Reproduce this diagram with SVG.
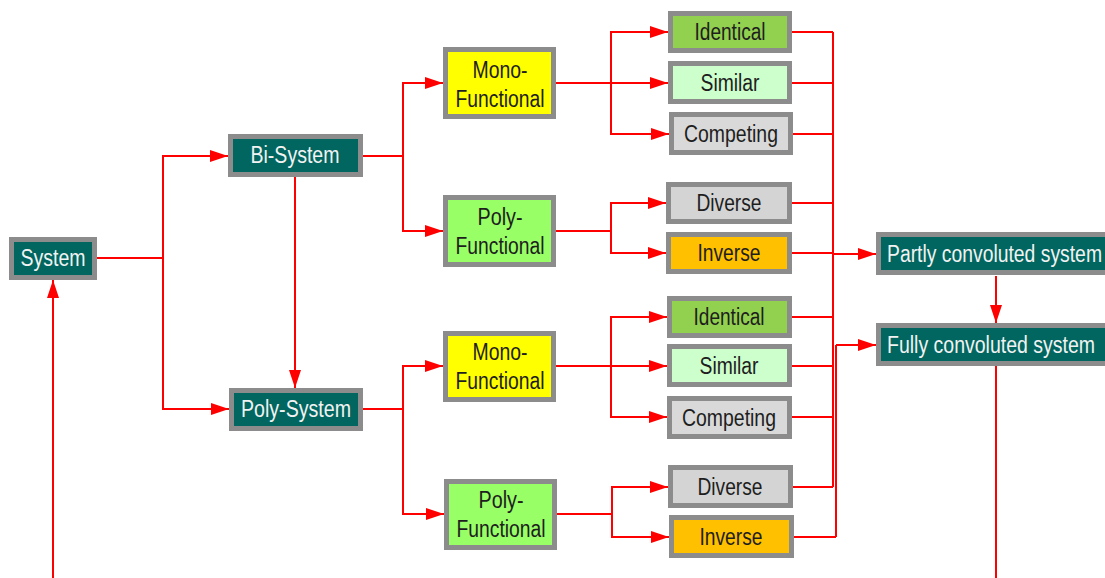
<svg xmlns="http://www.w3.org/2000/svg" width="1105" height="578" viewBox="0 0 1105 578">
<style>
.n rect{stroke:#8c8c8c;stroke-width:5}
.dark rect{fill:#00665f}
.dark text{fill:#f2f2f2}
text{font-family:"Liberation Sans Narrow","Liberation Sans",Arial,sans-serif;font-size:23px;fill:#1e1e1e;text-anchor:middle}
.c path{fill:none;stroke:#ff0000;stroke-width:2}
.c path.a{marker-end:url(#ah)}
</style>
<defs>
<marker id="ah" markerUnits="userSpaceOnUse" markerWidth="18" markerHeight="12" viewBox="0 0 18 12" refX="18" refY="6" orient="auto">
<path d="M0,0 L18,6 L0,12 Z" fill="#ff0000"/>
</marker>
</defs>
<g class="c">
<path class="a" d="M97,258 H163 V156 H228"/>
<path class="a" d="M163,258 V409 H229"/>
<path class="a" d="M295,177 V388"/>
<path class="a" d="M363,156 H403 V83 H443"/>
<path class="a" d="M403,156 V231 H443"/>
<path class="a" d="M556,83 H611 V32 H668"/>
<path class="a" d="M611,83 H668"/>
<path class="a" d="M611,83 V134 H669"/>
<path class="a" d="M556,231 H611 V203 H666"/>
<path class="a" d="M611,231 V253 H666"/>
<path class="a" d="M363,409 H403 V366 H443"/>
<path class="a" d="M403,409 V514 H444"/>
<path class="a" d="M556,366 H611 V317 H667"/>
<path class="a" d="M611,366 H667"/>
<path class="a" d="M611,366 V417 H667"/>
<path class="a" d="M557,514 H612 V487 H668"/>
<path class="a" d="M612,514 V537 H669"/>
<path d="M792,32 H833 M792,83 H833 M793,134 H833 M792,203 H833 M792,253 H833 M792,317 H833 M792,366 H833 M792,417 H833 M793,487 H833 M794,537 H836"/>
<path d="M833,32 V487"/>
<path d="M836,345 V537"/>
<path class="a" d="M833,254 H876"/>
<path class="a" d="M836,345 H876"/>
<path class="a" d="M996,276 V323"/>
<path d="M996,366 V578"/>
<path class="a" d="M53,578 V280"/>
</g>
<g id="system" class="n dark"><rect x="11.5" y="239.5" width="83" height="38"/><text x="53" y="266" textLength="65" lengthAdjust="spacingAndGlyphs">System</text></g>
<g id="bi-system" class="n dark"><rect x="230.5" y="136.5" width="130" height="38"/><text x="295" y="163" textLength="89" lengthAdjust="spacingAndGlyphs">Bi-System</text></g>
<g id="poly-system" class="n dark"><rect x="231.5" y="390.5" width="129" height="38"/><text x="296" y="417" textLength="110" lengthAdjust="spacingAndGlyphs">Poly-System</text></g>
<g id="mono1" class="n"><rect x="445.5" y="49.5" width="108" height="67" fill="#ffff00"/><text x="500" y="78" textLength="55" lengthAdjust="spacingAndGlyphs">Mono-</text><text x="500" y="107" textLength="89" lengthAdjust="spacingAndGlyphs">Functional</text></g>
<g id="poly1" class="n"><rect x="445.5" y="197.5" width="108" height="67" fill="#99ff66"/><text x="500" y="225" textLength="45" lengthAdjust="spacingAndGlyphs">Poly-</text><text x="500" y="254" textLength="89" lengthAdjust="spacingAndGlyphs">Functional</text></g>
<g id="mono2" class="n"><rect x="445.5" y="333.5" width="108" height="66" fill="#ffff00"/><text x="500" y="360" textLength="55" lengthAdjust="spacingAndGlyphs">Mono-</text><text x="500" y="389" textLength="89" lengthAdjust="spacingAndGlyphs">Functional</text></g>
<g id="poly2" class="n"><rect x="446.5" y="481.5" width="108" height="66" fill="#99ff66"/><text x="501" y="508" textLength="45" lengthAdjust="spacingAndGlyphs">Poly-</text><text x="501" y="537" textLength="89" lengthAdjust="spacingAndGlyphs">Functional</text></g>
<g id="identical1" class="n"><rect x="670.5" y="13.5" width="119" height="37" fill="#92d050"/><text x="730" y="40" textLength="71" lengthAdjust="spacingAndGlyphs">Identical</text></g>
<g id="similar1" class="n"><rect x="670.5" y="63.5" width="119" height="38" fill="#ccffcc"/><text x="730" y="91" textLength="59" lengthAdjust="spacingAndGlyphs">Similar</text></g>
<g id="competing1" class="n"><rect x="671.5" y="114.5" width="119" height="38" fill="#d9d9d9"/><text x="731" y="142" textLength="94" lengthAdjust="spacingAndGlyphs">Competing</text></g>
<g id="diverse1" class="n"><rect x="668.5" y="184.5" width="121" height="37" fill="#d4d4d4"/><text x="729" y="211" textLength="65" lengthAdjust="spacingAndGlyphs">Diverse</text></g>
<g id="inverse1" class="n"><rect x="668.5" y="234.5" width="121" height="37" fill="#ffc000"/><text x="729" y="261" textLength="63" lengthAdjust="spacingAndGlyphs">Inverse</text></g>
<g id="identical2" class="n"><rect x="669.5" y="298.5" width="120" height="37" fill="#92d050"/><text x="729" y="325" textLength="71" lengthAdjust="spacingAndGlyphs">Identical</text></g>
<g id="similar2" class="n"><rect x="669.5" y="346.5" width="120" height="38" fill="#ccffcc"/><text x="729" y="374" textLength="59" lengthAdjust="spacingAndGlyphs">Similar</text></g>
<g id="competing2" class="n"><rect x="669.5" y="398.5" width="120" height="38" fill="#d9d9d9"/><text x="729" y="426" textLength="94" lengthAdjust="spacingAndGlyphs">Competing</text></g>
<g id="diverse2" class="n"><rect x="670.5" y="467.5" width="120" height="38" fill="#d4d4d4"/><text x="730" y="495" textLength="65" lengthAdjust="spacingAndGlyphs">Diverse</text></g>
<g id="inverse2" class="n"><rect x="671.5" y="517.5" width="120" height="38" fill="#ffc000"/><text x="731" y="545" textLength="63" lengthAdjust="spacingAndGlyphs">Inverse</text></g>
<g id="partly" class="n dark"><rect x="878.5" y="234.5" width="240" height="38"/><text x="887" y="262" style="text-anchor:start" textLength="215" lengthAdjust="spacingAndGlyphs">Partly convoluted system</text></g>
<g id="fully" class="n dark"><rect x="878.5" y="325.5" width="240" height="38"/><text x="887" y="353" style="text-anchor:start" textLength="208" lengthAdjust="spacingAndGlyphs">Fully convoluted system</text></g>
</svg>
